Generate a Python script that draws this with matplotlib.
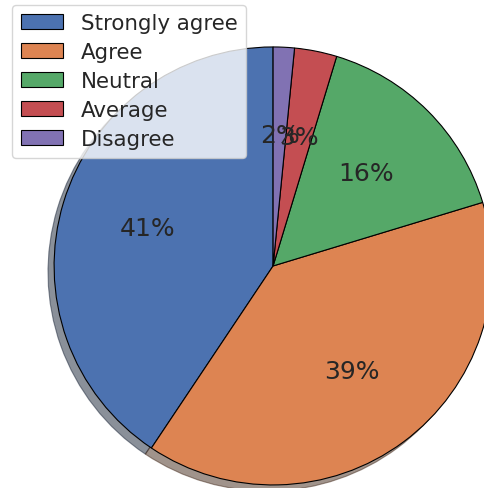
import matplotlib
matplotlib.use('Agg')
import matplotlib.pyplot as plt
import seaborn as sns

sns.set_theme()

labels = ['Strongly agree', 'Agree', 'Neutral', 'Average', 'Disagree']
counts = [26, 25, 10, 2, 1]

colors = sns.color_palette('deep', 5)

fig = plt.figure(figsize=(4.84, 4.89), dpi=100)
ax = fig.add_axes([0, 0, 1, 1])
wedges, texts, autotexts = ax.pie(counts, colors=colors, autopct='%1.0f%%',
                                  startangle=90, shadow=True,
                                  wedgeprops={'edgecolor': 'black', 'linewidth': 0.8},
                                  textprops={'fontsize': 18, 'color': '.15'})
ax.set_xlim(-1.247, 0.963)
ax.set_ylim(-1.014, 1.219)
ax.set_aspect('auto')
ax.axis('off')

leg = ax.legend(wedges, labels, loc='upper left', bbox_to_anchor=(0.025, 0.988),
                bbox_transform=fig.transFigure, fontsize=15.4, framealpha=0.8,
                facecolor='white', edgecolor='0.8', handlelength=2.0,
                labelspacing=0.42, borderaxespad=0)

fig.savefig('out.png', dpi=100)
